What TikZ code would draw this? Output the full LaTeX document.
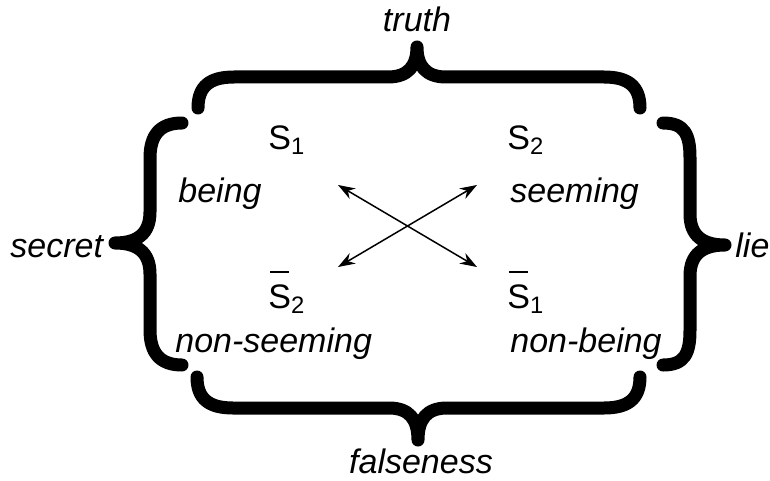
\documentclass[tikz,border=0pt]{standalone}
\usepackage{fontspec}
\setmainfont{Liberation Sans}
\usetikzlibrary{arrows.meta}
\newcommand{\barS}{\leavevmode\makebox[0pt][l]{\hspace{0.7pt}\rule[17.5pt]{9.8pt}{0.8pt}}S}
\tikzset{
  lbl/.style={inner sep=0pt, anchor=base west, font=\fontsize{17}{20}\selectfont\itshape},
  clbl/.style={lbl, anchor=base},
  sym/.style={inner sep=0pt, anchor=base west, font=\fontsize{17}{20}\selectfont},
  brace/.style={line width=6.5pt, line cap=round, line join=round},
  dbl/.style={line width=0.75pt, {Stealth[length=8.5pt,width=6pt]}-{Stealth[length=8.5pt,width=6pt]}}
}
\begin{document}
\begin{tikzpicture}[x=0.5pt,y=-0.5pt]
\useasboundingbox (0,0) rectangle (770,481);
% braces
\draw[brace] (198,108) .. controls (198,86) and (210,77) .. (234,77) -- (388,77)
  .. controls (408,77) and (417,66) .. (417,47)
  .. controls (417,66) and (426,77) .. (446,77) -- (604,77)
  .. controls (628,77) and (640,86) .. (640,108);
\draw[brace] (197,377) .. controls (197,399) and (209,408) .. (233,408) -- (389,408)
  .. controls (409,408) and (418,419) .. (418,440)
  .. controls (418,419) and (427,408) .. (447,408) -- (604,408)
  .. controls (628,408) and (640,399) .. (640,377);
\draw[brace] (182,123) .. controls (160,123) and (150,135) .. (150,158) -- (150,212)
  .. controls (150,234) and (137,243) .. (115,243)
  .. controls (137,243) and (150,252) .. (150,274) -- (150,330)
  .. controls (150,353) and (160,365) .. (182,365);
\draw[brace] (663,123) .. controls (685,123) and (690,135) .. (690,158) -- (690,214)
  .. controls (690,236) and (703,245) .. (725,245)
  .. controls (703,245) and (690,254) .. (690,276) -- (690,330)
  .. controls (690,353) and (685,365) .. (663,365);
% labels
\node[clbl] (truth) at (417,32) {truth};
\node[clbl] (falseness) at (421,473) {falseness};
\node[lbl] (secret) at (10,257) {secret};
\node[lbl] (lie) at (735,257) {lie};
\node[lbl] (being) at (178,202) {being};
\node[lbl] (seeming) at (510,202) {seeming};
\node[lbl] (nonseeming) at (175,352) {non-seeming};
\node[lbl] (nonbeing) at (510,352) {non-being};
\node[sym] (s1) at (268,149) {S\textsubscript{1}};
\node[sym] (s2) at (507,149) {S\textsubscript{2}};
\node[sym] (ns2) at (268,308) {\barS\textsubscript{2}};
\node[sym] (ns1) at (507,308) {\barS\textsubscript{1}};
% arrows
\coordinate (a1) at (338,185);
\coordinate (a2) at (477,267);
\coordinate (b1) at (338,267);
\coordinate (b2) at (477,185);
\draw[dbl] (a1) -- (a2);
\draw[dbl] (b1) -- (b2);
\end{tikzpicture}
\end{document}
